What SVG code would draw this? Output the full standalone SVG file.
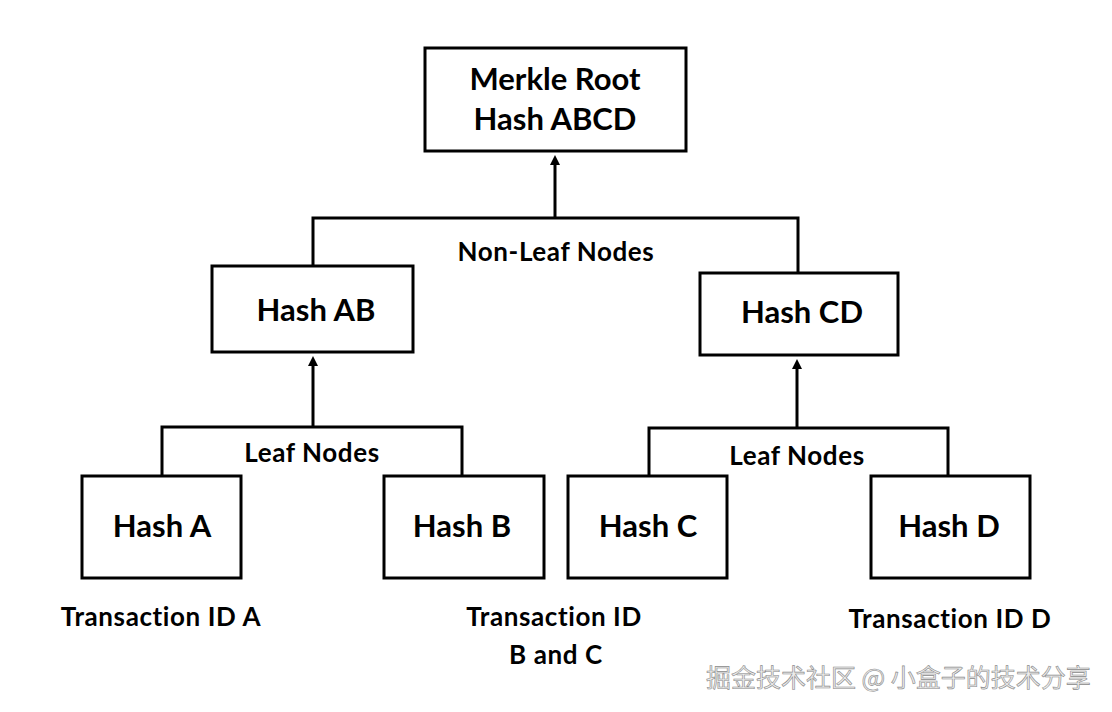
<svg xmlns="http://www.w3.org/2000/svg" width="1112" height="712" viewBox="0 0 1112 712">
<style>
.box{fill:#fff;stroke:#000;stroke-width:3}
.ln{fill:none;stroke:#000;stroke-width:3}
.t{font-family:Lato,"Liberation Sans",sans-serif;font-weight:bold;fill:#000;text-anchor:middle}
.big{font-size:31px}
.sm{font-size:26px;letter-spacing:0.6px}
.wm{font-family:"Noto Sans CJK SC",sans-serif;font-size:25px;fill:#ececec;stroke:#8a8a8a;stroke-width:0.6}
</style>
<defs>
<marker id="ah" markerWidth="10" markerHeight="10" refX="5" refY="5" orient="auto" markerUnits="userSpaceOnUse">
<path d="M0,0 L10,5 L0,10 z" fill="#000"/>
</marker>
</defs>
<rect width="1112" height="712" fill="#fff"/>
<g id="connectors">
<path class="ln" d="M555,218 V160" marker-end="url(#ah)"/>
<path class="ln" d="M313,266 V218 H798 V273"/>
<path class="ln" d="M313,427 V361" marker-end="url(#ah)"/>
<path class="ln" d="M162,476 V427 H462 V476"/>
<path class="ln" d="M797,428 V364" marker-end="url(#ah)"/>
<path class="ln" d="M649,476 V428 H948 V476"/>
</g>
<g id="root">
<rect class="box" x="425" y="48" width="261" height="103"/>
<text class="t big" x="555" y="90">Merkle Root</text>
<text class="t big" x="555" y="130">Hash ABCD</text>
</g>
<g id="label-nonleaf"><text class="t sm" x="556" y="261">Non-Leaf Nodes</text></g>
<g id="hashAB">
<rect class="box" x="212" y="266" width="201" height="86"/>
<text class="t big" x="316" y="321">Hash AB</text>
</g>
<g id="hashCD">
<rect class="box" x="700" y="273" width="198" height="82"/>
<text class="t big" x="802" y="323">Hash CD</text>
</g>
<g id="label-leaf1"><text class="t sm" x="312" y="462">Leaf Nodes</text></g>
<g id="label-leaf2"><text class="t sm" x="797" y="465">Leaf Nodes</text></g>
<g id="hashA">
<rect class="box" x="82" y="476" width="159" height="102"/>
<text class="t big" x="162" y="537">Hash A</text>
</g>
<g id="hashB">
<rect class="box" x="384" y="476" width="160" height="102"/>
<text class="t big" x="462" y="537">Hash B</text>
</g>
<g id="hashC">
<rect class="box" x="568" y="476" width="159" height="102"/>
<text class="t big" x="648" y="537">Hash C</text>
</g>
<g id="hashD">
<rect class="box" x="871" y="476" width="159" height="102"/>
<text class="t big" x="949" y="537">Hash D</text>
</g>
<g id="txA"><text class="t sm" x="161" y="626">Transaction ID A</text></g>
<g id="txBC">
<text class="t sm" x="554" y="626">Transaction ID</text>
<text class="t sm" x="556" y="664">B and C</text>
</g>
<g id="txD"><text class="t sm" x="950" y="628">Transaction ID D</text></g>
<text class="wm" x="706" y="687">掘金技术社区 @ 小盒子的技术分享</text>
</svg>
